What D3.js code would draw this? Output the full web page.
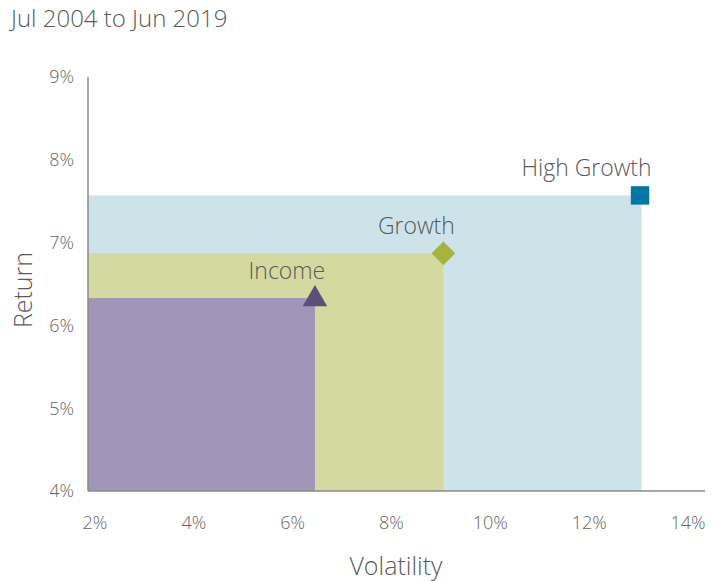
<!DOCTYPE html>
<html><head><meta charset="utf-8">
<script src="https://cdn.jsdelivr.net/npm/d3@7"></script>
<style>body{margin:0;background:#fff;} text{font-family:"Open Sans","Noto Sans",sans-serif;font-weight:300;}</style>
</head><body><svg id="c" width="721" height="581"></svg>
<script>
const portfolios = ["Income", "Growth", "High Growth"];
const volatility = [6.45, 9.05, 13.06];
const returns = [6.33, 6.87, 7.57];
const fills = ["#a295ba", "#d4d99f", "#cde3ea"];
const markerColors = ["#5e4e7c", "#a5b53c", "#0076a8"];
const xTicks = [2, 4, 6, 8, 10, 12, 14];
const yTicks = [4, 5, 6, 7, 8, 9];

const svg = d3.select("#c");
const x = d3.scaleLinear().domain([2, 14]).range([95, 688]);
const y = d3.scaleLinear().domain([4, 9]).range([491, 77]);
const left = 88, right = 705;

// rectangles drawn largest first
const idx = [2, 1, 0];
svg.selectAll("rect.area").data(idx).enter().append("rect")
  .attr("x", left)
  .attr("y", i => y(returns[i]))
  .attr("width", i => x(volatility[i]) - left)
  .attr("height", i => y(4) - y(returns[i]))
  .attr("fill", i => fills[i]);

// axes lines
svg.append("line").attr("x1", left).attr("x2", left).attr("y1", y(9)).attr("y2", y(4))
  .attr("stroke", "#8a8a8a").attr("stroke-width", 1.5);
svg.append("line").attr("x1", left).attr("x2", right).attr("y1", y(4)).attr("y2", y(4))
  .attr("stroke", "#8a8a8a").attr("stroke-width", 1.5);

// tick labels
svg.selectAll("text.yt").data(yTicks).enter().append("text")
  .attr("x", 74).attr("y", d => y(d)).attr("dy", "0.35em")
  .attr("text-anchor", "end").attr("fill", "#666").attr("font-size", 18)
  .text(d => d + "%");
svg.selectAll("text.xt").data(xTicks).enter().append("text")
  .attr("x", d => x(d)).attr("y", 529)
  .attr("text-anchor", "middle").attr("fill", "#666").attr("font-size", 18)
  .text(d => d + "%");

// markers: triangle, diamond (rotated square), square
const m = svg.append("g");
m.append("path")
  .attr("transform", `translate(${x(volatility[0])},${y(returns[0]) + 1})`)
  .attr("d", d3.symbol().type(d3.symbolTriangle).size(260)())
  .attr("fill", markerColors[0]);
m.append("path")
  .attr("transform", `translate(${x(volatility[1])},${y(returns[1])}) rotate(45)`)
  .attr("d", d3.symbol().type(d3.symbolSquare).size(280)())
  .attr("fill", markerColors[1]);
m.append("path")
  .attr("transform", `translate(${x(volatility[2]) - 1.5},${y(returns[2])})`)
  .attr("d", d3.symbol().type(d3.symbolSquare).size(340)())
  .attr("fill", markerColors[2]);

// labels
const labelDx = [-28, -27, -55];
svg.selectAll("text.lab").data([0, 1, 2]).enter().append("text")
  .attr("x", i => x(volatility[i]) + labelDx[i])
  .attr("y", i => y(returns[i]) - 19)
  .attr("text-anchor", "middle").attr("fill", "#5a5a5a").attr("font-size", 23)
  .text(i => portfolios[i]);

// title and axis titles
svg.append("text").attr("x", 11).attr("y", 27).attr("fill", "#5a5a5a").attr("font-size", 24)
  .text("Jul 2004 to Jun 2019");
svg.append("text").attr("transform", "translate(32,290) rotate(-90)")
  .attr("text-anchor", "middle").attr("fill", "#5a5a5a").attr("font-size", 25)
  .text("Return");
svg.append("text").attr("x", 396).attr("y", 575)
  .attr("text-anchor", "middle").attr("fill", "#5a5a5a").attr("font-size", 25)
  .text("Volatility");
</script></body></html>
